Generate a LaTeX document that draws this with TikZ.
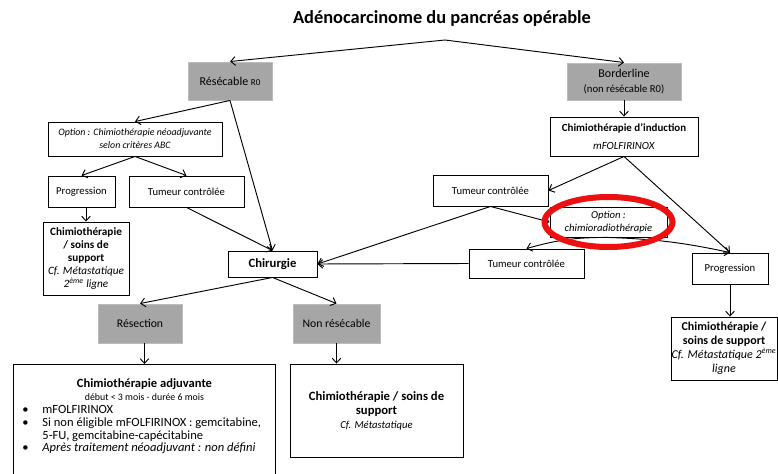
\documentclass[tikz,border=0pt]{standalone}
\usepackage{fontspec}
\setmainfont{Carlito}
\usepackage{tikz}
\usetikzlibrary{arrows.meta, positioning, shapes.geometric}
\definecolor{boxgray}{RGB}{166,166,166}
\definecolor{markred}{RGB}{236,16,16}
\newcommand{\bulitem}{\hspace*{6.75pt}\makebox[15pt][l]{\textbullet}}

\begin{document}
\begin{tikzpicture}[
    x=0.75pt, y=-0.75pt,
    box/.style={rectangle, draw, line width=0.7pt, inner sep=0pt, align=center, font=\fontsize{8}{9.75}\selectfont},
    greybox/.style={box, fill=boxgray, draw=boxgray!75!white, font=\fontsize{8.8}{10.5}\selectfont},
    arrow/.style={-{Straight Barb[length=3.5pt, width=6.5pt]}, line width=0.7pt},
    ring/.style={draw=markred, line width=4.5pt}
]
\useasboundingbox (0,0) rectangle (778,474);
\clip (0,0) rectangle (778,474);
\node[font=\bfseries\fontsize{13.8}{16}\selectfont] (title) at (442,18) {Adénocarcinome du pancréas opérable};
\coordinate (split) at (445,40);
\node[greybox, minimum width=63pt, minimum height=28.5pt, font=\fontsize{9}{10.5}\selectfont] (res) at (230,81) {Résécable {\fontsize{6.8}{8}\selectfont R0}};
\node[greybox, minimum width=85.5pt, minimum height=27.75pt] (bord) at (624,81.5) {{\fontsize{9}{10.5}\selectfont Borderline}\\[0.5pt]{\fontsize{8}{9}\selectfont (non résécable R0)}};
\node[box, minimum width=130.5pt, minimum height=25.5pt, font=\itshape\fontsize{7.4}{9.75}\selectfont] (optneo) at (135,139) {Option : Chimiothérapie néoadjuvante\\selon critères ABC};
\node[box, minimum width=111pt, minimum height=29.25pt, font=\fontsize{8.2}{9.75}\selectfont] (induc) at (624,136.5) {\textbf{Chimiothérapie d’induction}\\[3.5pt]\textit{mFOLFIRINOX}};
\node[box, minimum width=50.25pt, minimum height=23.25pt] (progL) at (81.5,191.5) {Progression};
\node[box, minimum width=86.25pt, minimum height=23.25pt] (tumL) at (186.5,191.5) {Tumeur contrôlée};
\node[box, minimum width=64.5pt, minimum height=54.75pt, font=\fontsize{8.4}{9.75}\selectfont] (chimL) at (86,258.5) {\textbf{Chimiothérapie}\\\textbf{/ soins de}\\\textbf{support}\\\textit{Cf. Métastatique}\\\textit{2\textsuperscript{ème} ligne}};
\node[box, minimum width=66.75pt, minimum height=19.5pt, font=\bfseries\fontsize{9.5}{11}\selectfont] (chir) at (272.5,264) {Chirurgie};
\node[box, minimum width=86.25pt, minimum height=23.25pt] (tumR) at (490.5,190.5) {Tumeur contrôlée};
\node[box, minimum width=87.75pt, minimum height=22.5pt, font=\itshape\fontsize{8}{9.75}\selectfont] (optrad) at (608.5,222) {Option :\\chimioradiothérapie};
\node[box, minimum width=86.25pt, minimum height=21.75pt] (tumM) at (526.5,263.5) {Tumeur contrôlée};
\node[box, minimum width=57pt, minimum height=23.25pt] (progR) at (730,268.5) {Progression};
\node[box, minimum width=79.5pt, minimum height=47.25pt, font=\fontsize{9}{10.5}\selectfont] (chimR) at (724,348.5) {\textbf{Chimiothérapie /}\\\textbf{soins de support}\\\textit{Cf. Métastatique 2\textsuperscript{ème}}\\\textit{ligne}};
\node[greybox, minimum width=63pt, minimum height=29.25pt] (resect) at (140,323.5) {Résection};
\node[greybox, minimum width=65.25pt, minimum height=29.25pt] (nonres) at (336.5,323.5) {Non résécable};
\node[box, anchor=north west, font=\fontsize{9.4}{9.6}\selectfont] (adj) at (13,364) {\parbox[t][100pt][t]{196.5pt}{\vspace*{11pt}%
    {\centering\textbf{Chimiothérapie adjuvante}\\{\fontsize{7.4}{9.6}\selectfont début < 3 mois - durée 6 mois}\par}
    \raggedright
    \bulitem mFOLFIRINOX\\
    \bulitem Si non éligible mFOLFIRINOX : gemcitabine,\\
    \hspace*{21.75pt}5-FU, gemcitabine-capécitabine\\
    \bulitem\textit{Après traitement néoadjuvant : non défini}}};
\node[box, minimum width=129.75pt, minimum height=69.75pt, font=\fontsize{9.5}{10.5}\selectfont] (nonbox) at (376.5,410.5) {\textbf{Chimiothérapie / soins de}\\\textbf{support}\\{\itshape\fontsize{8}{9.5}\selectfont Cf. Métastatique}};
\draw[arrow] (split) -- (res.north);
\draw[arrow] (split) -- (bord.north);
\draw[arrow] (res.south) -- (optneo.north);
\draw[arrow] (res.south) -- (chir.north);
\draw[arrow] (optneo.south) -- (progL.north);
\draw[arrow] (optneo.south) -- (tumL.north);
\draw[arrow] (chimL.north |- progL.south) -- (chimL.north);
\draw[arrow] (tumL.south) -- (chir.north);
\draw[arrow] (bord.south) -- (induc.north);
\draw[arrow] (induc.south) -- (tumR.east);
\draw[arrow] (induc.south) -- (progR.north);
\draw[arrow] (tumR.south) -- (chir.east);
\draw[arrow] (tumR.south) -- (optrad.west);
\draw[arrow] (optrad.south) to[bend right=8] (tumM.north);
\draw[arrow] (optrad.south) to[bend left=5] (progR.north);
\draw[arrow] (tumM.west) -- (chir.east);
\draw[arrow] (progR.south) -- (progR.south |- chimR.north);
\draw[arrow] (chir.south) -- (resect.north);
\draw[arrow] (chir.south) -- (nonres.north);
\draw[arrow] (adj.north |- resect.south) -- (adj.north);
\draw[arrow] (nonres.south) -- (nonres.south |- nonbox.north);
\draw[ring] (optrad.center) ellipse [x radius=64, y radius=25];
\end{tikzpicture}
\end{document}
